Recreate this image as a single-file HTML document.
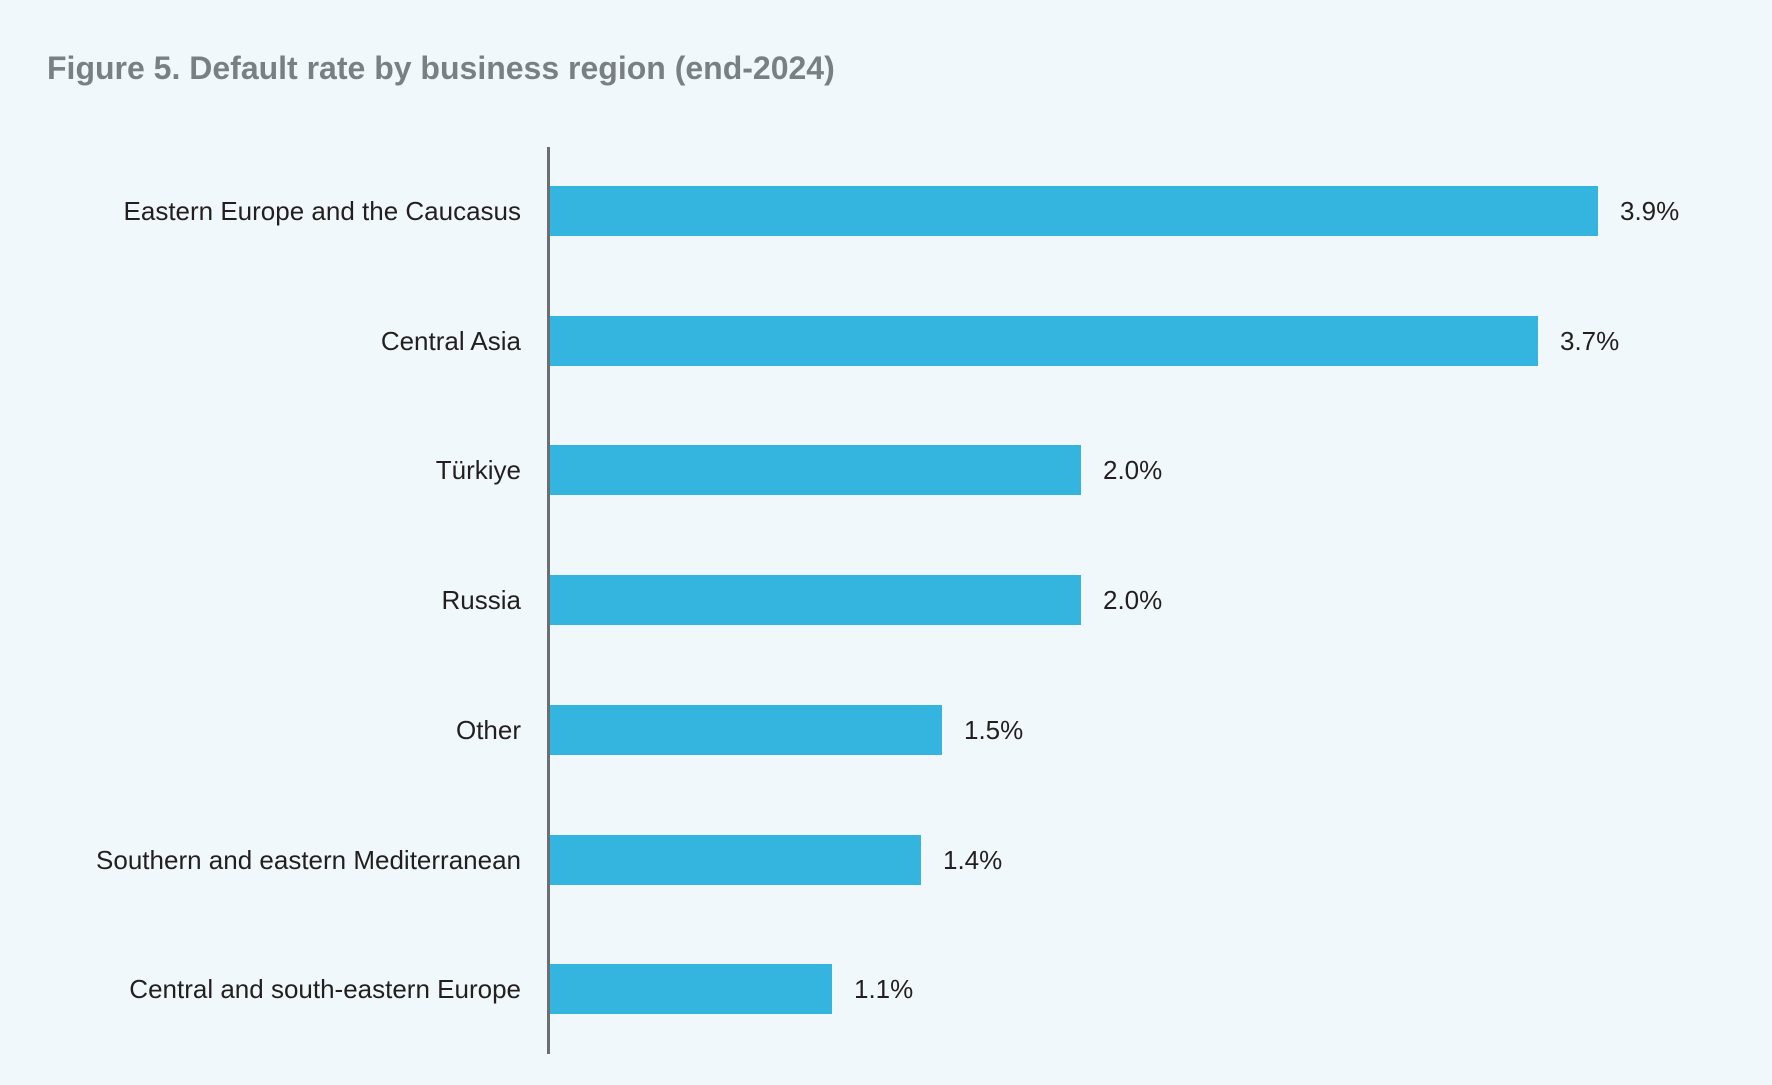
<!DOCTYPE html>
<html><head><meta charset="utf-8"><style>
body{margin:0;width:1772px;height:1085px;background:#f0f8fb;font-family:"Liberation Sans",sans-serif;position:relative;overflow:hidden}
.t{position:absolute;left:47px;top:50px;font-size:32px;font-weight:bold;color:#7a7f84}
.ax{position:absolute;left:547px;top:147px;width:3px;height:907px;background:#6d6e70}
.b{position:absolute;left:550px;height:50px;background:#33b5e0}
.l{position:absolute;right:1251px;font-size:26px;color:#231f20;white-space:nowrap;line-height:50px}
.v{position:absolute;font-size:26px;color:#231f20;line-height:50px}
</style></head><body>
<div class="t">Figure 5. Default rate by business region (end-2024)</div>
<div class="ax"></div>
<div class="b" style="top:186px;width:1048px"></div><div class="l" style="top:186px">Eastern Europe and the Caucasus</div><div class="v" style="top:186px;left:1620px">3.9%</div>
<div class="b" style="top:316px;width:988px"></div><div class="l" style="top:316px">Central Asia</div><div class="v" style="top:316px;left:1560px">3.7%</div>
<div class="b" style="top:445px;width:531px"></div><div class="l" style="top:445px">Türkiye</div><div class="v" style="top:445px;left:1103px">2.0%</div>
<div class="b" style="top:575px;width:531px"></div><div class="l" style="top:575px">Russia</div><div class="v" style="top:575px;left:1103px">2.0%</div>
<div class="b" style="top:705px;width:392px"></div><div class="l" style="top:705px">Other</div><div class="v" style="top:705px;left:964px">1.5%</div>
<div class="b" style="top:835px;width:371px"></div><div class="l" style="top:835px">Southern and eastern Mediterranean</div><div class="v" style="top:835px;left:943px">1.4%</div>
<div class="b" style="top:964px;width:282px"></div><div class="l" style="top:964px">Central and south-eastern Europe</div><div class="v" style="top:964px;left:854px">1.1%</div>
</body></html>
